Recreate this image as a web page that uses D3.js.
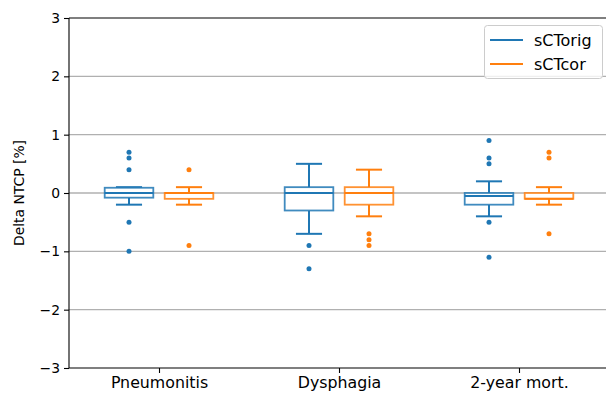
<!DOCTYPE html>
<html><head><meta charset="utf-8">
<script src="https://cdn.jsdelivr.net/npm/d3@7"></script>
<style>body{margin:0;background:#fff}svg{display:block}text{font-family:"DejaVu Sans",sans-serif}</style>
</head><body>
<svg id="c" width="606" height="395"></svg>
<script>
const categories = ["Pneumonitis", "Dysphagia", "2-year mort."];
const seriesNames = ["sCTorig", "sCTcor"];
const seriesColors = ["#1f77b4", "#ff7f0e"];
const yTicks = [-3, -2, -1, 0, 1, 2, 3];

// sCTorig box stats per category
const origLow    = [-0.2, -0.7, -0.4];
const origQ1     = [-0.08, -0.3, -0.2];
const origMedian = [0.0, 0.0, -0.05];
const origQ3     = [0.09, 0.1, 0.0];
const origHigh   = [0.1, 0.5, 0.2];
const origFliers = [[0.7, 0.6, 0.4, -0.5, -1.0], [-0.9, -1.3], [0.9, 0.6, 0.5, -0.5, -1.1]];

// sCTcor box stats per category
const corLow    = [-0.2, -0.4, -0.2];
const corQ1     = [-0.1, -0.2, -0.1];
const corMedian = [0.0, 0.0, -0.1];
const corQ3     = [0.0, 0.1, 0.0];
const corHigh   = [0.1, 0.4, 0.1];
const corFliers = [[0.4, -0.9], [-0.7, -0.8, -0.9], [0.7, 0.6, -0.7]];

const series = [
  {low: origLow, q1: origQ1, med: origMedian, q3: origQ3, high: origHigh, fliers: origFliers},
  {low: corLow, q1: corQ1, med: corMedian, q3: corQ3, high: corHigh, fliers: corFliers}
];

const svg = d3.select("#c");
const L = 69, R = 609, T = 18, B = 368;
const x = d3.scaleLinear().domain([0.5, 3.5]).range([L, R]);
const y = d3.scaleLinear().domain([-3, 3]).range([B, T]);
const offsets = [-1/6, 1/6];
const boxW = 0.27, capW = 0.145;

// grid
svg.append("g").selectAll("line").data(yTicks.filter(t => t > -3 && t < 3)).join("line")
  .attr("x1", L).attr("x2", R).attr("y1", d => y(d)).attr("y2", d => y(d))
  .attr("stroke", "#b0b0b0").attr("stroke-width", 1.4);

// boxes
series.forEach((s, si) => {
  const col = seriesColors[si];
  const g = svg.append("g");
  categories.forEach((c, ci) => {
    const cx = ci + 1 + offsets[si];
    const xc = x(cx);
    g.append("line").attr("x1", xc).attr("x2", xc).attr("y1", y(s.q3[ci])).attr("y2", y(s.high[ci]))
      .attr("stroke", col).attr("stroke-width", 2);
    g.append("line").attr("x1", xc).attr("x2", xc).attr("y1", y(s.q1[ci])).attr("y2", y(s.low[ci]))
      .attr("stroke", col).attr("stroke-width", 2);
    [s.high[ci], s.low[ci]].forEach(v => {
      g.append("line").attr("x1", x(cx - capW / 2)).attr("x2", x(cx + capW / 2))
        .attr("y1", y(v)).attr("y2", y(v)).attr("stroke", col).attr("stroke-width", 2);
    });
    g.append("rect").attr("x", x(cx - boxW / 2)).attr("width", x(cx + boxW / 2) - x(cx - boxW / 2))
      .attr("y", y(s.q3[ci])).attr("height", Math.max(0, y(s.q1[ci]) - y(s.q3[ci])))
      .attr("fill", "white").attr("stroke", col).attr("stroke-width", 1.8).attr("stroke-opacity", 0.85);
    g.append("line").attr("x1", x(cx - boxW / 2)).attr("x2", x(cx + boxW / 2))
      .attr("y1", y(s.med[ci])).attr("y2", y(s.med[ci])).attr("stroke", col).attr("stroke-width", 2);
    g.selectAll(null).data(s.fliers[ci]).join("circle")
      .attr("cx", xc).attr("cy", d => y(d)).attr("r", 2.5).attr("fill", col);
  });
});

// axes
const yAxis = d3.axisLeft(y).tickValues(yTicks).tickSize(5).tickPadding(4)
  .tickFormat(d => d < 0 ? "\u2212" + Math.abs(d) : String(d));
const ga = svg.append("g").attr("transform", `translate(${L},0)`).call(yAxis);
ga.select(".domain").attr("stroke-width", 1.1).attr("d", `M0,${T}V${B}`);
ga.selectAll(".tick line").attr("stroke-width", 1.1);
ga.selectAll("text").attr("font-size", 13.9).attr("font-family", "DejaVu Sans").attr("fill", "#000");

const xAxis = d3.axisBottom(x).tickValues([1, 2, 3]).tickSize(5).tickPadding(4)
  .tickFormat(d => categories[d - 1]);
const gx = svg.append("g").attr("transform", `translate(0,${B})`).call(xAxis);
gx.select(".domain").attr("stroke-width", 1.1).attr("d", `M${L},0H${R}`);
gx.selectAll(".tick line").attr("stroke-width", 1.1);
gx.selectAll("text").attr("font-size", 15.8).attr("font-family", "DejaVu Sans").attr("fill", "#000");

// top spine
svg.append("line").attr("x1", L).attr("x2", R).attr("y1", T).attr("y2", T)
  .attr("stroke", "#000").attr("stroke-width", 1.1);

// y label
svg.append("text").attr("transform", `translate(24,${(T + B) / 2}) rotate(-90)`)
  .attr("text-anchor", "middle").attr("font-size", 13.9).text("Delta NTCP [%]");

// legend
const lg = svg.append("g");
lg.append("rect").attr("x", 484.5).attr("y", 25.5).attr("width", 118).attr("height", 53).attr("rx", 3)
  .attr("fill", "white").attr("fill-opacity", 0.8).attr("stroke", "#cccccc").attr("stroke-width", 1);
seriesNames.forEach((n, i) => {
  const ly = 40 + i * 24;
  lg.append("line").attr("x1", 490).attr("x2", 523).attr("y1", ly).attr("y2", ly)
    .attr("stroke", seriesColors[i]).attr("stroke-width", 2);
  lg.append("text").attr("x", 534).attr("y", ly + 5.5).attr("font-size", 16).text(n);
});
</script>
</body></html>
